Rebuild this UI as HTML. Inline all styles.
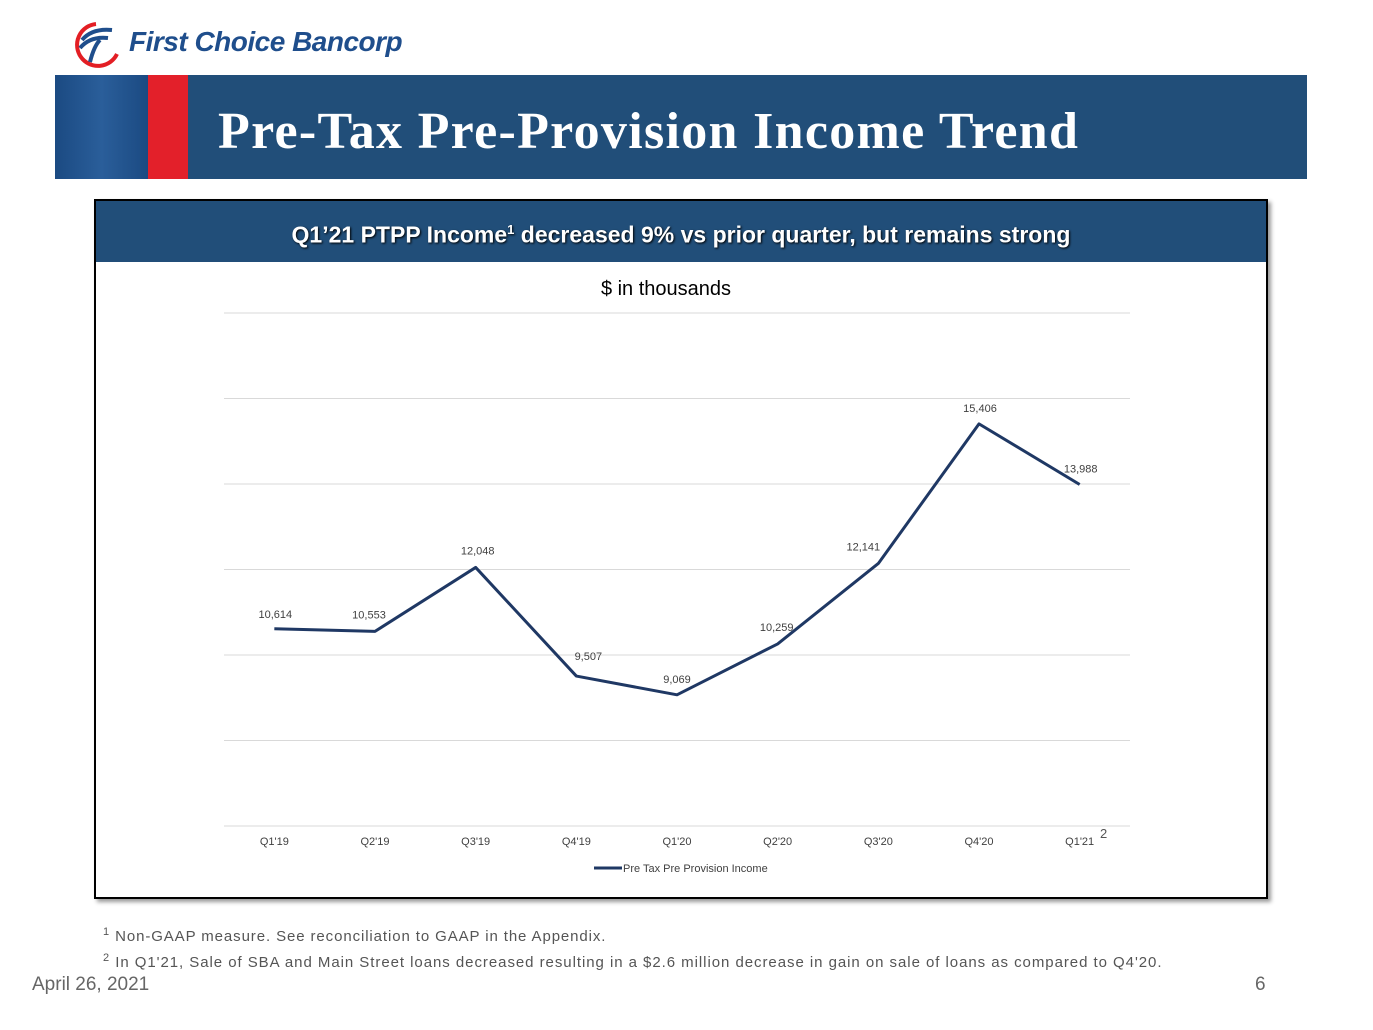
<!DOCTYPE html>
<html><head><meta charset="utf-8">
<style>
body{margin:0;width:1373px;height:1030px;background:#fff;position:relative;overflow:hidden;font-family:"Liberation Sans",sans-serif}
.abs{position:absolute}
</style></head>
<body>
<div class="abs" style="left:72px;top:20px;width:340px;height:50px">
<svg width="52" height="50" style="position:absolute;left:0;top:0">
<path d="M24 4 A21 21 0 1 0 45 34" fill="none" stroke="#e31e24" stroke-width="4"/>
<path d="M10 20 Q20 8 40 10 M8 28 Q18 16 36 18" fill="none" stroke="#1f4e8c" stroke-width="4"/>
<path d="M18 42 Q22 26 28 20" fill="none" stroke="#1f4e8c" stroke-width="4"/>
</svg>
<div class="abs" style="left:57px;top:6px;font-size:28px;font-weight:bold;font-style:italic;color:#1f4e8c;letter-spacing:-0.5px;white-space:nowrap">First Choice Bancorp</div>
</div>
<div class="abs" style="left:55px;top:75px;width:1252px;height:104px;background:#214e79">
<div class="abs" style="left:0;top:0;width:93px;height:104px;background:linear-gradient(90deg,#1b4a82,#2a5e9a,#1b4a82)"></div>
<div class="abs" style="left:93px;top:0;width:40px;height:104px;background:#e3202a"></div>
<div class="abs" style="left:163px;top:27px;font-family:'Liberation Serif',serif;font-weight:bold;font-size:52px;letter-spacing:1.3px;color:#fff;white-space:nowrap">Pre-Tax Pre-Provision Income Trend</div>
</div>
<div class="abs" style="left:94px;top:199px;width:1170px;height:696px;border:2px solid #000;box-shadow:3px 3px 4px #999">
<div class="abs" style="left:0;top:0;width:1170px;height:61px;background:#214e79;color:#fff;font-weight:bold;font-size:23px;text-align:center;line-height:58px;text-shadow:1px 1px 2px #000;white-space:nowrap">Q1’21 PTPP Income<sup style="font-size:13px">1</sup> decreased 9% vs prior quarter, but remains strong</div>
</div>
<svg class="abs" style="left:0;top:0" width="1373" height="1030" id="chart"></svg>
<div class="abs" style="left:103px;top:926px;font-size:15px;letter-spacing:0.9px;color:#555;white-space:nowrap"><sup style="font-size:11px">1</sup> Non-GAAP measure. See reconciliation to GAAP in the Appendix.</div>
<div class="abs" style="left:103px;top:952px;font-size:15px;letter-spacing:0.95px;color:#555;white-space:nowrap"><sup style="font-size:11px">2</sup> In Q1'21, Sale of SBA and Main Street loans decreased resulting in a $2.6 million decrease in gain on sale of loans as compared to Q4'20.</div>
<div class="abs" style="left:32px;top:974px;font-size:19px;color:#666">April 26, 2021</div>
<div class="abs" style="left:1255px;top:974px;font-size:19px;color:#666">6</div>
<script>
const categories=["Q1'19","Q2'19","Q3'19","Q4'19","Q1'20","Q2'20","Q3'20","Q4'20","Q1'21"];
const values=[10614,10553,12048,9507,9069,10259,12141,15406,13988];
const valueLabels=["10,614","10,553","12,048","9,507","9,069","10,259","12,141","15,406","13,988"];
const gridValues=[6000,8000,10000,12000,14000,16000,18000];
const labelOffsets=[[1,-11],[-6,-13],[2,-13],[12,-16],[0,-12],[-1,-13],[-15,-13],[1,-12],[1,-12]];
const NS="http://www.w3.org/2000/svg";
const svg=document.getElementById('chart');
const x0=224,x1=1130,yBot=826,yTop=313,vMin=6000,vMax=18000;
const xs=i=>x0+(i+0.5)*(x1-x0)/categories.length;
const ys=v=>yBot-(v-vMin)/(vMax-vMin)*(yBot-yTop);
function mk(t,a){const e=document.createElementNS(NS,t);for(const k in a)e.setAttribute(k,a[k]);svg.appendChild(e);return e;}
let t=mk('text',{x:666,y:295,'text-anchor':'middle','font-size':20,fill:'#000','font-family':'Liberation Sans, sans-serif'});t.textContent='$ in thousands';


gridValues.forEach(v=>{const l=mk('line',{x1:x0,x2:x1,y1:ys(v),y2:ys(v),stroke:'#d9d9d9','stroke-width':1});

});
categories.forEach((c,i)=>{const e=mk('text',{x:xs(i),y:845,'text-anchor':'middle','font-size':11,fill:'#404040','font-family':'Liberation Sans, sans-serif'});e.textContent=c;

});
const p=mk('polyline',{points:values.map((v,i)=>xs(i)+','+ys(v)).join(' '),fill:'none',stroke:'#1f3864','stroke-width':3,'stroke-linejoin':'round'});


values.forEach((v,i)=>{const e=mk('text',{x:xs(i)+labelOffsets[i][0],y:ys(v)+labelOffsets[i][1],'text-anchor':'middle','font-size':11,fill:'#404040','font-family':'Liberation Sans, sans-serif'});e.textContent=valueLabels[i];

});
const n=mk('text',{x:1100,y:838,'font-size':13,fill:'#555','font-family':'Liberation Sans, sans-serif'});n.textContent='2';


const lg=mk('line',{x1:594,x2:622,y1:868,y2:868,stroke:'#1f3864','stroke-width':3});


const lt=mk('text',{x:623,y:872,'font-size':11,fill:'#404040','font-family':'Liberation Sans, sans-serif'});lt.textContent='Pre Tax Pre Provision Income';


</script>
</body></html>
